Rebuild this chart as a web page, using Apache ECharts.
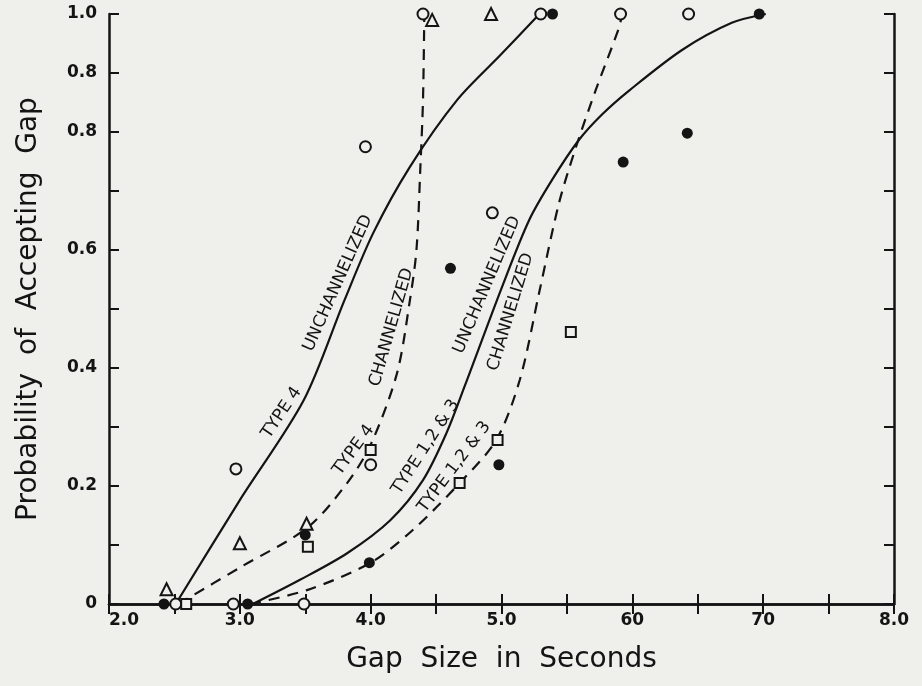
<!DOCTYPE html>
<html><head><meta charset="utf-8">
<script src="https://cdn.jsdelivr.net/npm/echarts@6/dist/echarts.min.js"></script>
<style>html,body{margin:0;padding:0;background:#efefec}#c{width:922px;height:686px}</style>
</head><body><div id="c"></div>
<script>
// Axis ticks and labels (as printed in the source figure)
const xTickValues = [2, 3, 4, 5, 6, 7, 8];
const xTickLabels = ['2.0', '3.0', '4.0', '5.0', '60', '70', '8.0'];
const yTickValues = [0, 0.2, 0.4, 0.6, 0.8, 0.9, 1.0];
const yTickLabels = ['0', '0.2', '0.4', '0.6', '0.8', '0.8', '1.0'];

// Observed points by marker type [gap seconds, probability]
const openCircles = [[2.51,0],[2.95,0],[2.97,0.229],[3.49,0],[4.0,0.236],[3.96,0.775],[4.93,0.663],[4.40,1.0],[5.30,1.0],[5.91,1.0],[6.43,1.0]];
const filledCircles = [[2.42,0],[3.06,0],[3.50,0.117],[3.99,0.07],[4.61,0.569],[4.98,0.236],[5.39,1.0],[5.93,0.749],[6.42,0.798],[6.97,1.0]];
const triangles = [[2.44,0.025],[3.0,0.103],[3.51,0.136],[4.47,0.99],[4.92,1.0]];
const squares = [[2.59,0],[3.52,0.097],[4.0,0.261],[4.68,0.205],[4.97,0.278],[5.53,0.461]];

// Fitted curves
const type4Unch = [[2.51,0],[3.0,0.176],[3.49,0.346],[3.80,0.515],[4.02,0.629],[4.30,0.741],[4.66,0.854],[4.99,0.93],[5.29,1.0]];
const type4Ch = [[2.53,0],[3.01,0.063],[3.52,0.13],[3.82,0.205],[4.0,0.27],[4.20,0.39],[4.30,0.515],[4.35,0.60],[4.38,0.741],[4.40,0.854],[4.41,1.0]];
const type123Unch = [[3.10,0],[3.46,0.041],[3.82,0.086],[4.15,0.142],[4.40,0.21],[4.58,0.29],[4.72,0.37],[5.0,0.535],[5.21,0.65],[5.39,0.72],[5.59,0.786],[5.77,0.83],[5.98,0.871],[6.38,0.939],[6.76,0.985],[7.02,1.0]];
const type123Ch = [[3.08,0],[3.52,0.024],[4.0,0.07],[4.32,0.125],[4.68,0.205],[4.96,0.278],[5.14,0.38],[5.29,0.53],[5.44,0.68],[5.57,0.775],[5.72,0.871],[5.90,0.978],[5.92,1.0]];

// Curve annotations: text, x, y, rotation
const curveLabels = [
  ['TYPE 4', 3.32, 0.324, 56],
  ['UNCHANNELIZED', 3.75, 0.544, 66],
  ['TYPE 4', 3.87, 0.261, 54],
  ['CHANNELIZED', 4.16, 0.469, 74],
  ['TYPE 1,2 & 3', 4.42, 0.266, 57],
  ['UNCHANNELIZED', 4.89, 0.541, 67],
  ['TYPE 1,2 & 3', 4.64, 0.232, 53],
  ['CHANNELIZED', 5.07, 0.495, 73]
];

const ink = '#141414';
const bg = '#efefec';
function lookup(vals, labs, v) {
  for (let i = 0; i < vals.length; i++) if (Math.abs(vals[i] - v) < 1e-6) return labs[i];
  return '';
}
const chart = echarts.init(document.getElementById('c'));
const markerBase = { type: 'scatter', clip: false, z: 5 };
const curveBase = { type: 'line', smooth: 0.3, symbol: 'none', z: 3, clip: false };
chart.setOption({
  backgroundColor: bg,
  animation: false,
  grid: { left: 109, right: 28, top: 14, bottom: 82 },
  xAxis: [{
    type: 'value', min: 2, max: 8, interval: 0.5, position: 'bottom',
    name: 'Gap  Size  in  Seconds', nameLocation: 'middle', nameGap: 42,
    nameTextStyle: { fontFamily: 'DejaVu Sans', fontSize: 28, color: ink },
    axisLine: { lineStyle: { color: ink, width: 2.5 } },
    axisTick: { inside: true, length: 10, lineStyle: { color: ink, width: 2 } },
    splitLine: { show: false },
    axisLabel: { formatter: v => lookup(xTickValues, xTickLabels, v), fontFamily: 'DejaVu Sans', fontWeight: 'bold', fontSize: 17, color: ink, margin: 8, alignMinLabel: 'left', showMinLabel: true, showMaxLabel: true }
  }, {
    type: 'value', min: 2, max: 8, interval: 0.5, position: 'top',
    axisLine: { lineStyle: { color: ink, width: 2.5 } },
    axisTick: { inside: true, length: 10, lineStyle: { color: ink, width: 2 } },
    axisLabel: { show: false }, splitLine: { show: false }
  }],
  yAxis: [{
    type: 'value', min: 0, max: 1, interval: 0.1, position: 'left',
    name: 'Probability  of  Accepting  Gap', nameLocation: 'middle', nameGap: 66,
    nameTextStyle: { fontFamily: 'DejaVu Sans', fontSize: 28, color: ink },
    axisLine: { lineStyle: { color: ink, width: 2.5 } },
    axisTick: { inside: true, length: 10, lineStyle: { color: ink, width: 2 } },
    splitLine: { show: false },
    axisLabel: { formatter: v => lookup(yTickValues, yTickLabels, v), fontFamily: 'DejaVu Sans', fontWeight: 'bold', fontSize: 17, color: ink, margin: 12 }
  }, {
    type: 'value', min: 0, max: 1, interval: 0.1, position: 'right',
    axisLine: { lineStyle: { color: ink, width: 2.5 } },
    axisTick: { inside: true, length: 10, lineStyle: { color: ink, width: 2 } },
    axisLabel: { show: false }, splitLine: { show: false }
  }],
  series: [
    Object.assign({}, curveBase, { name: 'Type 4 unchannelized', data: type4Unch, lineStyle: { color: ink, width: 2.2 } }),
    Object.assign({}, curveBase, { name: 'Type 4 channelized', data: type4Ch, lineStyle: { color: ink, width: 2.2, type: [11, 8] } }),
    Object.assign({}, curveBase, { name: 'Type 1,2 & 3 unchannelized', data: type123Unch, lineStyle: { color: ink, width: 2.2 } }),
    Object.assign({}, curveBase, { name: 'Type 1,2 & 3 channelized', data: type123Ch, lineStyle: { color: ink, width: 2.2, type: [11, 8] } }),
    Object.assign({}, markerBase, { name: 'open circle', data: openCircles, symbol: 'circle', symbolSize: 11, itemStyle: { color: bg, borderColor: ink, borderWidth: 2, opacity: 1 } }),
    Object.assign({}, markerBase, { name: 'filled circle', data: filledCircles, symbol: 'circle', symbolSize: 11, itemStyle: { color: ink, opacity: 1 } }),
    Object.assign({}, markerBase, { name: 'triangle', data: triangles, symbol: 'triangle', symbolSize: 12, itemStyle: { color: bg, borderColor: ink, borderWidth: 2, opacity: 1 } }),
    Object.assign({}, markerBase, { name: 'square', data: squares, symbol: 'rect', symbolSize: 10, itemStyle: { color: bg, borderColor: ink, borderWidth: 2, opacity: 1 } }),
    {
      type: 'scatter', name: 'labels', clip: false, z: 4, symbolSize: 0, silent: true,
      itemStyle: { opacity: 1 },
      data: curveLabels.map(d => ({ value: [d[1], d[2]], label: { formatter: d[0], rotate: d[3] } })),
      label: { show: true, position: 'inside', fontFamily: 'DejaVu Sans', fontSize: 17, color: ink, opacity: 1 }
    }
  ]
});
</script></body></html>
